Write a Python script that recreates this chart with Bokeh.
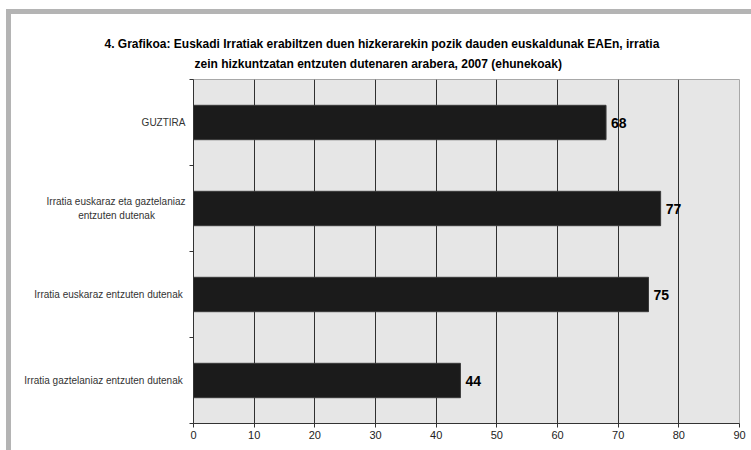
from bokeh.plotting import figure
from bokeh.models import ColumnDataSource, FixedTicker, Range1d, Label
from bokeh.embed import file_html
from bokeh.resources import INLINE

# ---- data ----
categories = [
    "GUZTIRA",
    "Irratia euskaraz eta gaztelaniaz\nentzuten dutenak" + "\u00a0" * 11,
    "Irratia euskaraz  entzuten dutenak",
    "Irratia  gaztelaniaz entzuten dutenak",
]
values = [68, 77, 75, 44]
x_ticks = [0, 10, 20, 30, 40, 50, 60, 70, 80, 90]
title_lines = [
    "4. Grafikoa: Euskadi Irratiak erabiltzen duen hizkerarekin pozik dauden euskaldunak EAEn, irratia",
    "zein hizkuntzatan entzuten dutenaren arabera, 2007 (ehunekoak)",
]

n = len(values)
ys = [n - 0.5 - i for i in range(n)]
src = ColumnDataSource(dict(y=ys, v=values, cat=categories))

FONT = "Liberation Sans"
BAND = "#b4b4b4"

p = figure(width=740, height=436, output_backend="svg", toolbar_location=None,
           x_range=Range1d(0, 90), y_range=Range1d(0, n),
           min_border_left=182, min_border_right=12, min_border_top=65, min_border_bottom=27)
p.margin = (14, 0, 0, 11)
p.styles = {"box-shadow": f"-5px -5px 0px 0px {BAND}, 5px -5px 0px 0px {BAND}, -5px 5px 0px 0px {BAND}"}

p.background_fill_color = "#e6e6e6"
p.border_fill_color = "white"
p.outline_line_color = "#a8a8a8"

p.hbar(y="y", right="v", left=0, height=0.4, source=src,
       fill_color="#1b1b1b", line_color="#3a3a3a", line_width=1)

# x axis
p.xaxis.ticker = FixedTicker(ticks=x_ticks)
p.xaxis.major_label_text_font = FONT
p.xaxis.major_label_text_font_size = "11px"
p.xaxis.major_label_text_color = "#222222"
p.xaxis.axis_line_color = "#333333"
p.xaxis.major_tick_line_color = "#333333"
p.xaxis.major_tick_out = 4
p.xaxis.major_tick_in = 0
p.xaxis.minor_tick_line_color = None
p.xaxis.major_label_standoff = 3

# y axis: category labels at centres, short ticks at boundaries
p.yaxis.ticker = FixedTicker(ticks=ys, minor_ticks=list(range(n + 1)))
p.yaxis.major_label_overrides = {y: c for y, c in zip(ys, categories)}
p.yaxis.major_label_text_font = FONT
p.yaxis.major_label_text_font_size = "10px"
p.yaxis.major_label_text_color = "#333333"
p.yaxis.major_label_standoff = 4
p.yaxis.axis_line_color = "#333333"
p.yaxis.major_tick_line_color = None
p.yaxis.major_tick_out = 0
p.yaxis.major_tick_in = 0
p.yaxis.minor_tick_line_color = "#333333"
p.yaxis.minor_tick_out = 4
p.yaxis.minor_tick_in = 0

p.xgrid.ticker = FixedTicker(ticks=x_ticks[1:-1])
p.xgrid.grid_line_color = "#303030"
p.ygrid.grid_line_color = None

# title: two lines, second line padded so that both appear centred
p.title.text = title_lines[0] + "\n" + "\u00a0" * 27 + title_lines[1]
p.title.align = "left"
p.title.offset = -89
p.title.standoff = 17
p.title.text_line_height = 1.42
p.title.text_font = FONT
p.title.text_font_size = "12px"
p.title.text_font_style = "bold"
p.title.text_color = "#000000"

# value labels
for y, v in zip(ys, values):
    p.add_layout(Label(x=v, y=y, text=str(v), x_offset=5, y_offset=0,
                       text_align="left", text_baseline="middle",
                       text_font=FONT, text_font_size="14px", text_font_style="bold",
                       text_color="#000000"))

open("out.html", "w").write(file_html(p, INLINE))
